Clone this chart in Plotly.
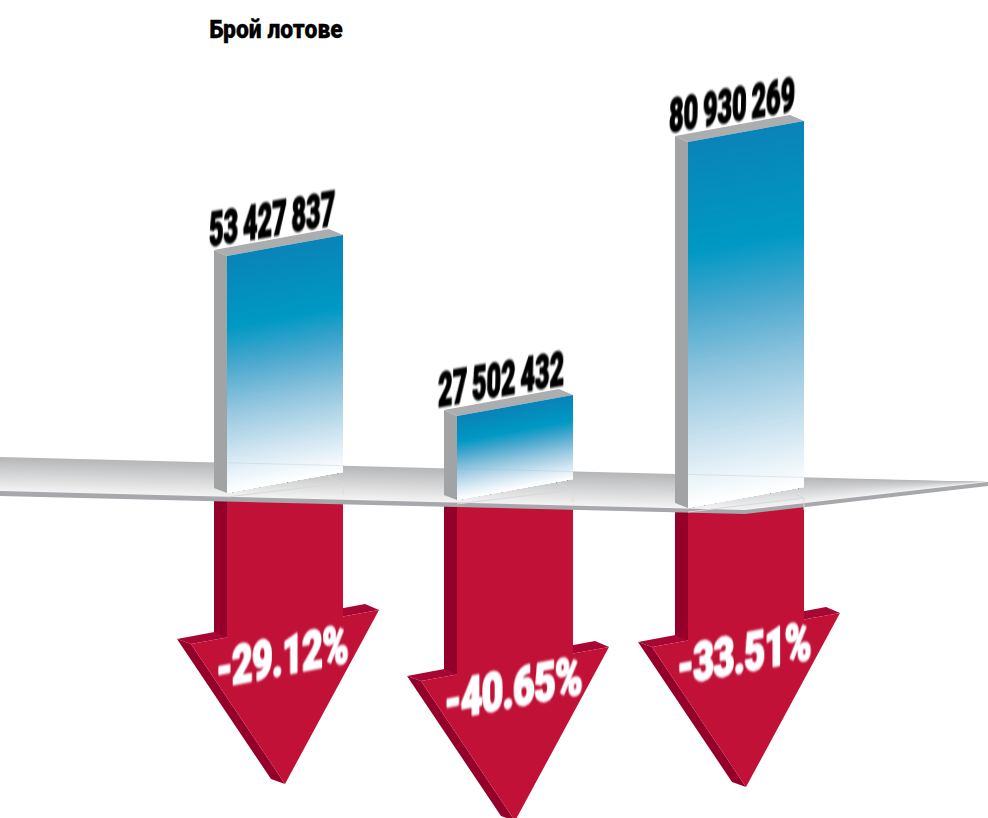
import numpy as np
import plotly.graph_objects as go
from plotly.colors import sample_colorscale

title = "Брой лотове"
lots = [53427837, 27502432, 80930269]
changes = [-29.12, -40.65, -33.51]
lot_labels = ["53 427 837", "27 502 432", "80 930 269"]
change_labels = ["-29.12%", "-40.65%", "-33.51%"]

# The infographic is not drawn to a linear scale: these calibrate value -> drawn size.
LOT_SCALE = ([27502432, 53427837, 80930269], [84, 237, 366])
DROP_SCALE = ([29.12, 33.51, 40.65], [644, 647, 681])
BAR_LEFT = [214, 444, 675]
BAR_GRAD = [[0, "#0a84b8"], [0.30, "#0099c4"], [0.45, "#44a6cd"], [0.65, "#93c6df"],
            [0.85, "#d3e7f2"], [1, "#ffffff"]]
PLATE_GRAD = [[0, "#b6b7b9"], [1, "#f3f3f3"]]
RED, RED_DARK, RED_TOP = "#c21137", "#95002b", "#a90733"

fig = go.Figure()


def poly(xs, ys, color):
    fig.add_trace(go.Scatter(
        x=list(xs) + [xs[0]], y=list(ys) + [ys[0]], mode="lines", fill="toself",
        fillcolor=color, line=dict(color=color, width=0),
        hoverinfo="skip", showlegend=False))


def seg(xs, ys, color, lw=1):
    fig.add_trace(go.Scatter(x=xs, y=ys, mode="lines", line=dict(color=color, width=lw),
                             hoverinfo="skip", showlegend=False))


def base_y(x0):
    return 493 + (x0 - 214) * 14 / 461


# arrows
for x0, ch in zip(BAR_LEFT, changes):
    hy = float(np.interp(abs(ch), *DROP_SCALE))
    b = base_y(x0)
    tip = (x0 + 71, hy + 140)
    poly([x0 - 37, x0 + 151, x0 + 165, x0 - 23], [hy - 5, hy - 40, hy - 34, hy], RED_TOP)
    poly([x0 - 37, x0 - 23, tip[0], x0 + 57], [hy - 5, hy, tip[1], hy + 135], RED_DARK)
    poly([x0, x0 + 13, x0 + 13, x0], [b, b, hy - 6.5, hy - 12], RED_DARK)
    poly([x0 + 13, x0 + 129, x0 + 129, x0 + 165, tip[0], x0 - 23, x0 + 13],
         [b, b, hy - 27.5, hy - 34, tip[1], hy, hy - 6.5], RED)

# plate: slanted gradient bands, each painted over the previous one
PX = np.array([0, 745, 988])
PT = np.array([457, 475.9, 482])
PB = np.array([491, 510, 482])
N = 34
cols = sample_colorscale(PLATE_GRAD, np.linspace(0, 1, N))
for i in range(N):
    s = i / N
    up = PT + s * (PB - PT)
    poly(list(PX) + list(PX[::-1]), list(up) + list(PB[::-1]), cols[i])
poly([0, 745, 988, 988, 745, 0], [491, 510, 482, 486, 514, 496], "#a7a8ac")

# bars
for x0, v in zip(BAR_LEFT, lots):
    h = float(np.interp(v, *LOT_SCALE))
    b = base_y(x0) + (1 if x0 > 500 else 0)
    t = b - h
    xl, xr = x0 + 13, x0 + 129
    seg([xl, xr, xr - 15], [b + 4, b - 10, b - 17], "#d8d8da")
    seg([xr, xr], [b - 10, b + 2], "#dcdcde")
    poly([x0, xl, xl, x0], [t - 6, t, b, b - 5], "#a2a3a5")
    poly([x0, xl, xr, x0 + 115], [t - 6, t, t - 21, t - 27], "#acadaf")
    M = 120
    c = sample_colorscale(BAR_GRAD, np.linspace(0, 1, M))
    for i in range(M):
        s = i / M
        poly([xl, xr, xr, xl], [t + s * h, t - 21 + s * h, b - 21, b], c[i])
    seg([xl, xr], list(np.interp([xl, xr], PX, PT)), "rgba(150,175,190,0.22)")

annos = [dict(x=276, y=29, text=title, showarrow=False, xref="x", yref="y",
              font=dict(family="Roboto", size=23, color="#000", weight=900))]
for x, y, txt in zip([272, 501, 732], [218, 378, 104], lot_labels):
    annos.append(dict(x=x, y=y, text=txt, textangle=-10, showarrow=False, xref="x", yref="y",
                      font=dict(family="Roboto", size=30, color="#000", weight=900)))
for x, y, txt in zip([282, 513, 744], [656, 688, 653], change_labels):
    annos.append(dict(x=x, y=y, text=txt, textangle=-11, showarrow=False, xref="x", yref="y",
                      font=dict(family="Roboto", size=30, color="#fff", weight=900)))

fig.update_layout(
    width=988, height=818, margin=dict(l=0, r=0, t=0, b=0), autosize=False,
    paper_bgcolor="#fff", plot_bgcolor="#fff", showlegend=False, annotations=annos,
    xaxis=dict(range=[0, 988], visible=False, fixedrange=True),
    yaxis=dict(range=[818, 0], visible=False, fixedrange=True),
)

# Condense, shear and embolden the labels the way the printed graphic does.
TEXT_JS = """
document.body.style.margin='0';
var W=[134,128,128,128,134,140,136], SY=[1.1,1.6,1.6,1.6,1.75,1.75,1.75], SK=[0,-11,-11,-11,-11,-11,-11],
    SW=[0.25,1.1,1.1,1.1,1.3,1.3,1.3];
document.querySelectorAll('.annotation-text').forEach(function(t,i){
  if(i>0&&i<4){t.style.wordSpacing='-1.5px';}
  if(i>3){t.style.letterSpacing='-0.5px';}
  t.style.stroke=t.style.fill; t.style.strokeWidth=SW[i]+'px'; t.style.strokeLinejoin='round';
  var b=t.getBBox(), cx=b.x+b.width/2, cy=b.y+b.height/2, sx=W[i]/b.width;
  t.setAttribute('transform','translate('+cx+','+cy+') skewX('+SK[i]+') scale('+sx+','+SY[i]+') translate('+(-cx)+','+(-cy)+')');
  if(i>0){t.style.filter='blur(0.6px)';}
});
"""
fig.write_html("out.html", config={"displayModeBar": False}, post_script=TEXT_JS)
